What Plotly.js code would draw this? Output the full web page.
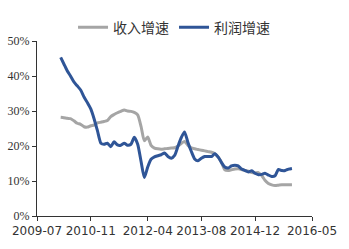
<!DOCTYPE html>
<html>
<head>
<meta charset="utf-8">
<script src="https://cdn.plot.ly/plotly-3.0.1.min.js"></script>
<style>html,body{margin:0;padding:0;background:#fff;}#chart{width:349px;height:249px;}</style>
</head>
<body>
<div id="chart"></div>
<script>
// Monthly observations from 2010-02 to 2015-11
var startYear = 2010, startMonth = 2, nMonths = 70;
var months = [];
for (var i = 0; i < nMonths; i++) {
  var mm = startMonth - 1 + i;
  var y = startYear + Math.floor(mm / 12);
  var m = (mm % 12) + 1;
  months.push(y + '-' + (m < 10 ? '0' + m : m) + '-01');
}

var revenueGrowth = [
  28.2, 28.1, 27.9, 27.8, 27.2, 26.5, 26.2, 25.5, 25.4, 25.8,
  26.0, 26.6, 26.8, 27.0, 27.3, 28.4, 29.0, 29.5, 29.9, 30.3,
  30.0, 29.9, 29.6, 28.9, 25.5, 21.5, 22.6, 20.2, 19.4, 19.2,
  19.1, 19.2, 19.3, 19.4, 19.5, 20.0, 20.8, 21.3, 20.2, 19.5,
  19.2, 19.0, 18.8, 18.6, 18.4, 18.2, 17.8, 16.8, 15.2, 13.2,
  13.0, 13.2, 13.4, 13.5, 13.3, 13.0, 12.8, 12.4, 12.3, 12.4,
  11.5, 10.2, 9.3, 8.9, 8.7, 8.8, 8.9, 8.9, 8.9, 8.9
];

var profitGrowth = [
  45.3, 43.5, 41.5, 40.0, 38.3, 37.2, 36.0, 34.0, 32.4, 30.6,
  27.8, 24.3, 20.8, 20.5, 20.8, 19.8, 21.2, 20.3, 20.2, 20.8,
  20.2, 20.5, 22.5, 20.5, 15.5, 11.0, 14.0, 16.2, 16.9, 17.2,
  17.5, 18.0, 17.0, 16.5, 17.3, 20.0, 22.5, 24.0, 21.0, 18.5,
  16.3, 15.8, 16.5, 17.0, 17.0, 17.0, 17.8, 16.8, 15.2, 14.0,
  13.7, 14.3, 14.5, 14.3, 13.4, 13.0, 12.6, 12.9, 12.2, 11.8,
  11.9, 12.2, 11.7, 11.3, 11.5, 13.3, 13.0, 13.0, 13.4, 13.6
];

var xTickVals = ['2009-07-01', '2010-11-01', '2012-04-01', '2013-08-01', '2014-12-01', '2016-05-01'];
var xTickText = ['2009-07', '2010-11', '2012-04', '2013-08', '2014-12', '2016-05'];
var seriesNames = ['收入增速', '利润增速'];

var traces = [
  {
    x: months, y: revenueGrowth, name: seriesNames[0], type: 'scatter', mode: 'lines',
    line: {color: '#A5A5A5', width: 3, shape: 'spline', smoothing: 0.6}
  },
  {
    x: months, y: profitGrowth, name: seriesNames[1], type: 'scatter', mode: 'lines',
    line: {color: '#2F5597', width: 3, shape: 'spline', smoothing: 0.6}
  }
];

var layout = {
  width: 349, height: 249,
  margin: {l: 37, r: 37, t: 32, b: 33},
  paper_bgcolor: '#ffffff', plot_bgcolor: '#ffffff',
  showlegend: true,
  legend: {
    orientation: 'h', x: 0.131, xanchor: 'left', y: 1.076, yanchor: 'middle',
    font: {family: 'Noto Sans CJK SC', size: 14, color: '#333333'},
    bgcolor: 'rgba(0,0,0,0)'
  },
  xaxis: {
    type: 'date', range: ['2009-07-01', '2016-05-01'],
    tickmode: 'array', tickvals: xTickVals, ticktext: xTickText,
    ticks: 'outside', ticklen: 4, tickcolor: '#333333', tickwidth: 1,
    showline: true, linecolor: '#333333', linewidth: 1,
    showgrid: false, zeroline: false,
    tickfont: {family: 'DejaVu Sans', size: 12, color: '#333333'}
  },
  yaxis: {
    range: [0, 50], tickmode: 'linear', tick0: 0, dtick: 10, ticksuffix: '%',
    ticks: 'outside', ticklen: 4, tickcolor: '#333333', tickwidth: 1,
    showline: true, linecolor: '#333333', linewidth: 1,
    showgrid: false, zeroline: false,
    tickfont: {family: 'Liberation Serif', size: 12, color: '#333333'}
  }
};

Plotly.newPlot('chart', traces, layout, {displayModeBar: false, staticPlot: true});
</script>
</body>
</html>
